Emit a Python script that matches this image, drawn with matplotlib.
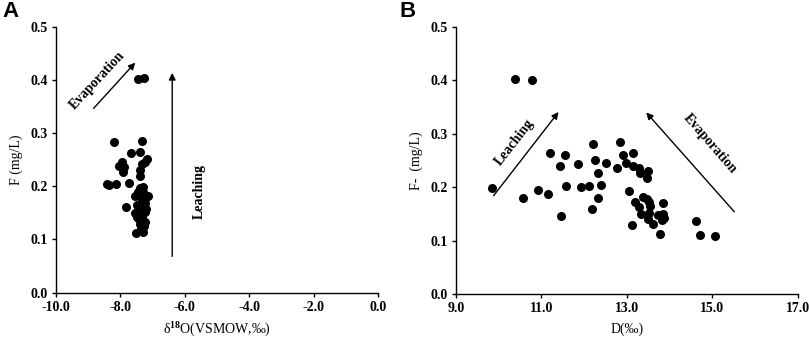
import numpy as np
import matplotlib
matplotlib.use("Agg")
import matplotlib.pyplot as plt
from matplotlib.ticker import FormatStrFormatter

plt.rcParams['font.family'] = ['Liberation Serif', 'DejaVu Serif']
plt.rcParams['font.weight'] = 'bold'
plt.rcParams['axes.unicode_minus'] = False
plt.rcParams['mathtext.fontset'] = 'custom'
plt.rcParams['mathtext.rm'] = 'Liberation Serif:bold'
plt.rcParams['mathtext.default'] = 'rm'

# panel A: delta18O vs F
d18o = [-7.44, -7.27, -8.21, -7.33, -7.67, -7.39, -7.16, -7.96, -8.03, -7.88,
        -7.93, -7.34, -7.39, -7.39, -8.43, -8.35, -8.14, -7.72, -7.39, -7.29,
        -7.55, -7.13, -7.84, -7.49, -7.34, -7.23, -7.55, -7.39, -7.23, -7.49,
        -7.34, -7.23, -7.39, -7.52, -7.31, -7.25, -7.44, -7.30, -7.36, -7.28,
        -7.40, -7.21, -7.33, -7.46, -7.27, -7.35]
f_a = [0.402, 0.404, 0.283, 0.285, 0.262, 0.264, 0.251, 0.245, 0.238, 0.236,
       0.228, 0.243, 0.231, 0.219, 0.204, 0.203, 0.204, 0.207, 0.197, 0.199,
       0.181, 0.181, 0.162, 0.165, 0.175, 0.168, 0.149, 0.149, 0.152, 0.143,
       0.137, 0.132, 0.130, 0.112, 0.114, 0.246, 0.190, 0.190, 0.186, 0.172,
       0.158, 0.158, 0.145, 0.140, 0.125, 0.120]

# panel B: D vs F-
d_b = [10.37, 10.77, 9.84, 10.56, 10.93, 11.15, 11.21, 11.54, 11.43, 11.45,
       11.58, 11.85, 11.92, 12.11, 12.20, 12.26, 12.33, 12.40, 12.32, 12.18,
       12.51, 12.76, 12.83, 12.90, 12.97, 13.15, 13.15, 13.29, 13.30, 13.50,
       13.48, 13.05, 13.18, 13.37, 13.47, 13.53, 13.54, 13.29, 13.84, 13.34,
       13.51, 13.49, 13.72, 13.84, 13.87, 13.82, 13.61, 13.11, 13.78, 14.62,
       14.72, 15.07]
f_b = [0.402, 0.400, 0.198, 0.179, 0.195, 0.188, 0.264, 0.261, 0.239, 0.146,
       0.203, 0.244, 0.200, 0.203, 0.281, 0.251, 0.226, 0.205, 0.179, 0.160,
       0.245, 0.236, 0.284, 0.261, 0.246, 0.264, 0.239, 0.236, 0.227, 0.231,
       0.218, 0.193, 0.173, 0.182, 0.177, 0.172, 0.165, 0.163, 0.170, 0.150,
       0.152, 0.140, 0.147, 0.149, 0.143, 0.139, 0.131, 0.129, 0.112, 0.137,
       0.111, 0.109]

FS = 10

fig = plt.figure(figsize=(8.09, 3.39), dpi=100)
axA = fig.add_axes([0.0692, 0.137, 0.398, 0.783])
axB = fig.add_axes([0.5637, 0.133, 0.4223, 0.787])


def style(ax):
    for s in ['top', 'right']:
        ax.spines[s].set_visible(False)
    for s in ['left', 'bottom']:
        ax.spines[s].set_linewidth(1.0)
    ax.tick_params(direction='out', length=3, width=1, labelsize=FS, pad=3)
    ax.yaxis.set_major_formatter(FormatStrFormatter('%.1f'))
    ax.xaxis.set_major_formatter(FormatStrFormatter('%.1f'))
    ax.set_ylim(0, 0.5)
    ax.set_yticks(np.arange(0, 0.51, 0.1))


# A
axA.scatter(d18o, f_a, s=30, color='black', zorder=3)
axA.set_xlim(-10, 0)
axA.set_xticks(np.arange(-10, 0.1, 2))
style(axA)
axA.set_xlabel('δ$^{18}$O(VSMOW,‰)', fontsize=FS, labelpad=5)
axA.set_ylabel('F (mg/L)', fontsize=FS, labelpad=5)
axA.annotate('', xy=(-7.48, 0.437), xytext=(-8.89, 0.343),
             arrowprops=dict(arrowstyle='-|>', color='black', lw=1, mutation_scale=10))
axA.text(-8.7, 0.40, 'Evaporation', rotation=47, fontsize=FS,
         ha='center', va='center')
axA.annotate('', xy=(-6.39, 0.419), xytext=(-6.39, 0.063),
             arrowprops=dict(arrowstyle='-|>', color='black', lw=1, mutation_scale=10))
axA.text(-5.55, 0.19, 'Leaching', rotation=90, fontsize=FS,
         ha='center', va='center')

# B
axB.scatter(d_b, f_b, s=30, color='black', zorder=3)
axB.set_xlim(9, 17)
axB.set_xticks(np.arange(9, 17.1, 2))
style(axB)
axB.set_xlabel('D(‰)', fontsize=FS, labelpad=5)
axB.set_ylabel('F-  (mg/L)', fontsize=FS, labelpad=5)
axB.annotate('', xy=(11.44, 0.345), xytext=(9.84, 0.180),
             arrowprops=dict(arrowstyle='-|>', color='black', lw=1, mutation_scale=10))
axB.text(10.38, 0.284, 'Leaching', rotation=52, fontsize=FS,
         ha='center', va='center')
axB.annotate('', xy=(13.41, 0.344), xytext=(15.56, 0.150),
             arrowprops=dict(arrowstyle='-|>', color='black', lw=1, mutation_scale=10))
axB.text(14.95, 0.281, 'Evaporation', rotation=-49, fontsize=FS,
         ha='center', va='center')

fig.text(0.003, 0.998, 'A', fontsize=16, fontweight='bold',
         family='Liberation Sans', ha='left', va='top')
fig.text(0.494, 0.998, 'B', fontsize=16, fontweight='bold',
         family='Liberation Sans', ha='left', va='top')

fig.savefig('out.png', dpi=100)
